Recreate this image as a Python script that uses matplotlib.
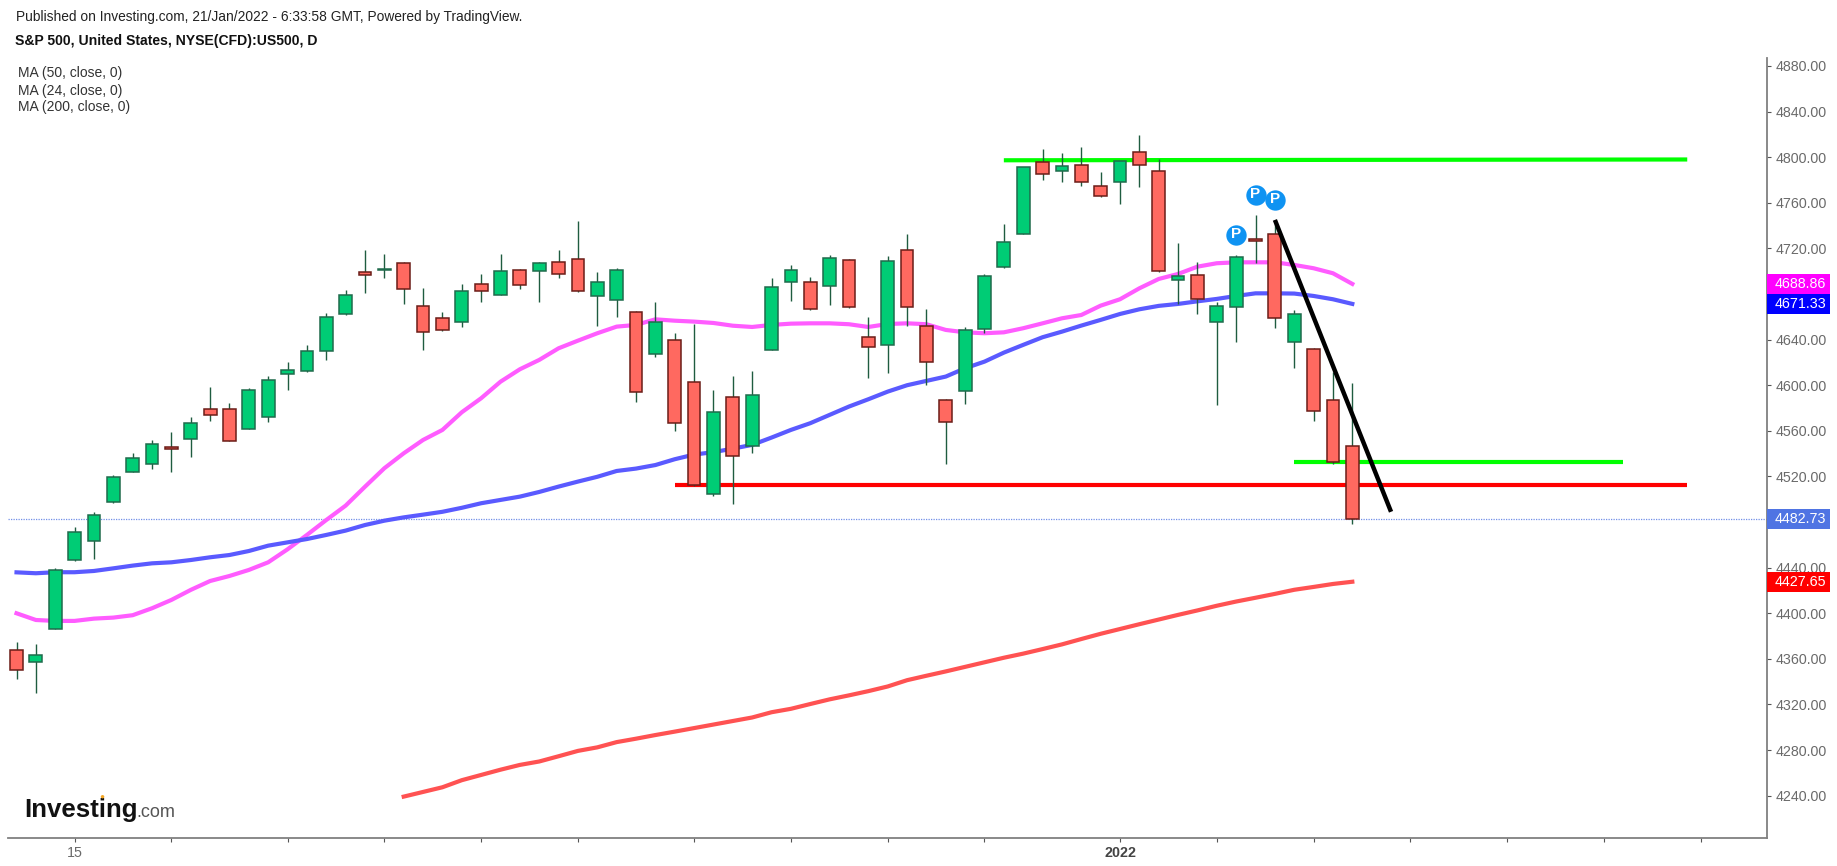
import matplotlib
matplotlib.use('Agg')
import matplotlib.pyplot as plt
import numpy as np
from matplotlib.patches import Rectangle

# daily candles, bar 0 is the left most one
opens = [4368.1, 4357.0, 4386.5, 4446.8, 4463.4, 4497.4, 4523.7, 4531.2, 4545.5, 4553.2,
         4579.0, 4579.5, 4562.0, 4571.9, 4610.1, 4612.2, 4630.0, 4662.8, 4699.3, 4701.0,
         4707.0, 4669.5, 4658.7, 4655.2, 4689.1, 4679.2, 4701.4, 4700.0, 4707.8, 4711.0,
         4678.0, 4674.8, 4664.0, 4627.7, 4640.0, 4602.6, 4504.3, 4589.7, 4546.4, 4631.2,
         4690.3, 4690.3, 4686.8, 4710.0, 4642.1, 4635.3, 4718.9, 4652.0, 4587.4, 4595.0,
         4649.6, 4703.5, 4733.0, 4795.5, 4787.9, 4793.4, 4774.8, 4778.0, 4804.3, 4787.9,
         4692.3, 4697.0, 4655.2, 4668.4, 4728.5, 4733.0, 4637.7, 4632.1, 4587.4, 4546.7]
highs = [4375.1, 4372.8, 4439.5, 4476.0, 4489.0, 4521.0, 4540.6, 4552.0, 4559.3, 4572.4,
         4598.8, 4584.2, 4597.3, 4608.4, 4620.4, 4635.0, 4663.1, 4683.3, 4718.4, 4714.9,
         4708.4, 4685.0, 4664.5, 4688.6, 4697.3, 4714.9, 4701.7, 4708.4, 4718.4, 4743.8,
         4699.6, 4702.6, 4665.1, 4673.3, 4645.6, 4653.5, 4595.6, 4608.4, 4612.8, 4693.8,
         4705.2, 4695.2, 4714.0, 4710.5, 4660.1, 4713.1, 4732.4, 4666.6, 4587.7, 4651.4,
         4697.6, 4741.2, 4791.5, 4806.9, 4803.4, 4809.2, 4787.3, 4797.0, 4819.2, 4798.2,
         4724.5, 4708.4, 4673.3, 4714.0, 4749.1, 4745.0, 4665.7, 4632.5, 4611.9, 4601.7]
lows = [4342.1, 4330.4, 4386.0, 4446.0, 4447.6, 4497.0, 4523.5, 4526.3, 4524.2, 4537.4,
        4569.0, 4551.0, 4561.5, 4568.0, 4595.6, 4612.0, 4621.9, 4662.0, 4681.2, 4694.3,
        4671.3, 4630.7, 4648.0, 4651.4, 4673.3, 4679.0, 4684.2, 4673.3, 4694.3, 4682.0,
        4652.2, 4660.1, 4585.6, 4625.1, 4560.2, 4512.0, 4503.0, 4496.0, 4540.3, 4631.0,
        4674.2, 4665.7, 4670.1, 4668.0, 4606.6, 4611.0, 4652.2, 4600.0, 4531.0, 4583.6,
        4646.1, 4703.0, 4733.0, 4779.8, 4778.5, 4775.0, 4765.5, 4759.0, 4774.1, 4699.5,
        4671.3, 4662.5, 4582.4, 4638.2, 4707.5, 4650.5, 4615.4, 4569.0, 4531.0, 4478.3]
closes = [4350.3, 4363.7, 4438.3, 4471.0, 4486.5, 4519.3, 4536.0, 4548.8, 4544.5, 4566.6,
          4574.2, 4551.1, 4596.1, 4604.9, 4613.7, 4630.0, 4659.6, 4679.4, 4696.7, 4702.0,
          4684.7, 4646.4, 4648.5, 4682.7, 4682.7, 4700.2, 4687.9, 4707.0, 4697.8, 4682.7,
          4690.3, 4701.4, 4593.8, 4655.2, 4566.6, 4512.5, 4576.3, 4538.1, 4591.7, 4685.9,
          4701.4, 4667.2, 4711.3, 4668.4, 4633.3, 4709.0, 4668.4, 4620.1, 4567.5, 4648.7,
          4695.8, 4725.4, 4791.1, 4785.5, 4792.3, 4778.0, 4765.7, 4796.7, 4793.4, 4700.0,
          4695.6, 4675.9, 4669.5, 4712.2, 4726.3, 4658.7, 4662.8, 4577.4, 4532.4, 4482.73]

ma24 = [4400.0, 4394.1, 4393.3, 4393.3, 4395.3, 4396.2, 4398.3, 4404.4, 4411.7, 4420.5,
        4428.3, 4432.7, 4438.0, 4444.7, 4456.1, 4468.7, 4481.8, 4494.4, 4511.0, 4527.2,
        4540.3, 4552.0, 4560.8, 4576.3, 4588.6, 4603.1, 4614.0, 4622.2, 4632.4, 4639.1,
        4645.6, 4651.4, 4652.9, 4657.8, 4656.6, 4655.8, 4654.6, 4652.2, 4651.1, 4652.9,
        4654.0, 4654.3, 4654.3, 4653.5, 4651.1, 4653.7, 4654.3, 4653.5, 4648.5, 4646.4,
        4645.6, 4646.4, 4650.0, 4654.3, 4658.7, 4661.6, 4669.8, 4675.4, 4685.0, 4693.2,
        4697.6, 4704.0, 4707.0, 4707.8, 4707.8, 4707.8, 4705.5, 4702.6, 4698.2, 4688.86]
ma50 = [4435.9, 4435.1, 4436.0, 4436.0, 4437.1, 4439.4, 4441.8, 4443.8, 4444.7, 4446.7,
        4449.1, 4451.1, 4454.6, 4459.3, 4462.2, 4465.1, 4468.7, 4472.5, 4477.4, 4481.2,
        4484.1, 4486.5, 4489.0, 4492.5, 4496.5, 4499.4, 4502.3, 4506.4, 4511.1, 4515.5,
        4519.7, 4524.8, 4526.9, 4530.0, 4535.1, 4539.2, 4541.3, 4544.4, 4547.7, 4554.1,
        4560.8, 4566.7, 4574.0, 4581.3, 4587.7, 4594.4, 4600.0, 4603.8, 4607.6, 4614.9,
        4620.7, 4628.6, 4635.4, 4642.1, 4647.0, 4652.3, 4657.3, 4662.5, 4666.6, 4669.6,
        4671.3, 4673.6, 4675.7, 4678.3, 4680.6, 4680.6, 4680.4, 4678.3, 4675.4, 4671.33]
# the 200 day average only starts at bar 20
ma200_start = 20
ma200 = [4239.2, 4243.3, 4247.4, 4253.6, 4258.2, 4262.8, 4267.0, 4270.0, 4274.6, 4279.3,
         4282.4, 4287.0, 4290.0, 4293.2, 4296.2, 4299.3, 4302.4, 4305.5, 4308.6, 4313.2,
         4316.2, 4320.4, 4324.5, 4328.0, 4331.7, 4335.8, 4341.3, 4345.2, 4349.0, 4353.0,
         4357.0, 4361.0, 4364.6, 4368.6, 4372.7, 4377.4, 4382.0, 4386.2, 4390.4, 4394.5,
         4398.6, 4402.5, 4406.6, 4410.3, 4413.6, 4417.0, 4420.6, 4423.1, 4425.7, 4427.65]

# hand drawn lines on the chart: [bar, price] pairs
top_green = ([51, 86.3], [4797.3, 4798.0])
low_green = ([66, 83], [4532.4, 4532.4])
red_level = ([34, 86.3], [4512.2, 4512.2])
black_trend = ([65, 71], [4745.0, 4489.0])
pivot_bars = [63, 64, 65]
pivot_prices = [4731.8, 4767.1, 4762.7]

# the scale labels at 4680 and 4480 are hidden behind the price boxes in the picture
ytick_values = list(range(4240, 4881, 40))
hidden_ticks = [4480, 4680]
xtick_bars = [3, 8, 14, 19, 24, 29, 35, 40, 45, 50, 57, 62, 67, 72, 77, 82, 87]
xtick_labels = ['15', '', '', '', '', '', '', '', '', '', '2022', '', '', '', '', '', '']
last_labels = ['4688.86', '4671.33', '4482.73', '4427.65']
last_values = [4688.86, 4671.33, 4482.73, 4427.65]
last_colors = ['#ff00ff', '#0000ff', '#4f74e3', '#ff0000']
ma_names = ['MA (50, close, 0)', 'MA (24, close, 0)', 'MA (200, close, 0)']

W, H = 1837, 866
plt.rcParams['font.family'] = ['Liberation Sans', 'DejaVu Sans']

fig = plt.figure(figsize=(W / 100, H / 100), dpi=100, facecolor='white')
ax = fig.add_axes([8 / W, 1 - 838 / H, (1767 - 8) / W, (838 - 58) / H])
ax.set_xlim(-0.44, 90.42)
ax.set_ylim(4202.9, 4887.0)

for side in ['top', 'left']:
    ax.spines[side].set_visible(False)
for side in ['right', 'bottom']:
    ax.spines[side].set_color('#808080')
    ax.spines[side].set_linewidth(1.3)

ax.yaxis.tick_right()
ax.set_yticks(ytick_values)
ax.set_yticklabels(['' if v in hidden_ticks else '%.2f' % v for v in ytick_values])
ax.set_xticks(xtick_bars)
ax.set_xticklabels(xtick_labels)
ax.tick_params(axis='both', length=3, width=0.8, color='#555555', labelcolor='#6a6a6a', labelsize=10.3)
ax.tick_params(axis='y', pad=3.5)
ax.tick_params(axis='x', pad=3)
ax.get_xticklabels()[10].set_fontweight('bold')
ax.get_xticklabels()[10].set_color('#444444')

bars = np.arange(len(opens))
opens = np.array(opens)
closes = np.array(closes)
highs = np.array(highs)
lows = np.array(lows)
up = closes >= opens

ax.axhline(last_values[2], color='#4f74e3', lw=0.9, dashes=(1, 1), alpha=0.8, zorder=1)

# averages sit behind the candles
ax.plot(bars, ma24, color='#ff5cff', lw=3.0, zorder=2, solid_joinstyle='round')
ax.plot(bars, ma50, color='#5a5aff', lw=3.0, zorder=2.1, solid_joinstyle='round')
ax.plot(bars[ma200_start:], ma200, color='#ff5252', lw=3.0, zorder=2.1, solid_joinstyle='round')

ax.plot(top_green[0], top_green[1], color='#00ff00', lw=3.0, zorder=2.2, solid_capstyle='butt')
ax.plot(low_green[0], low_green[1], color='#00ff00', lw=3.0, zorder=2.2, solid_capstyle='butt')
ax.plot(red_level[0], red_level[1], color='#ff0000', lw=3.0, zorder=2.2, solid_capstyle='butt')

ax.vlines(bars, lows, highs, color='#1f5c40', lw=1.0, zorder=3)
ax.bar(bars[up], (closes - opens)[up], bottom=opens[up], width=0.66, color='#00cc75',
       edgecolor='#1f6b4c', linewidth=1.1, zorder=4)
ax.bar(bars[~up], (closes - opens)[~up], bottom=opens[~up], width=0.66, color='#ff6960',
       edgecolor='#6b1d18', linewidth=1.1, zorder=4)

ax.plot(black_trend[0], black_trend[1], color='black', lw=3.2, zorder=5, solid_capstyle='butt')

ax.scatter(pivot_bars, pivot_prices, s=215, color='#0f93f2', linewidths=0, zorder=6)
for b, p in zip(pivot_bars, pivot_prices):
    ax.text(b, p + 1, 'P', color='white', fontsize=11, fontweight='bold', ha='center',
            va='center', zorder=7)

# price boxes on the scale
trans = ax.get_yaxis_transform()
box_right = (1830 - 8) / (1767 - 8)
for label, value, col in zip(last_labels, last_values, last_colors):
    ax.add_patch(Rectangle((1.0, value - 8.8), box_right - 1.0, 17.6, transform=trans,
                           facecolor=col, edgecolor='none', clip_on=False, zorder=10))
    ax.text((1775 - 8) / (1767 - 8), value, label, transform=trans, color='white', fontsize=10.3,
            va='center', ha='left', clip_on=False, zorder=11)

# header texts
fig.text(15.5 / W, 1 - 17.5 / H, 'Published on Investing.com, 21/Jan/2022 - 6:33:58 GMT, Powered by TradingView.',
         fontsize=9.95, color='#222222', va='center')
fig.text(15 / W, 1 - 40.5 / H, 'S&P 500, United States, NYSE(CFD):US500, D', fontsize=10.1,
         fontweight='bold', color='#111111', va='center')
for i, name in enumerate(ma_names):
    fig.text(18 / W, 1 - (73.5 + 17 * i) / H, name, fontsize=10, color='#333333', va='center')

# logo
fig.text(24.5 / W, 1 - 817 / H, 'Investing', fontsize=18.6, fontweight='bold', color='#111111', va='baseline')
fig.text(136 / W, 1 - 817 / H, '.com', fontsize=13, color='#555555', va='baseline')
fig.text(101.5 / W, 1 - 797 / H, '\u25cf', fontsize=6, color='#f5a623', va='center', ha='center')

fig.savefig('out.png', dpi=100, facecolor='white')
plt.close(fig)
